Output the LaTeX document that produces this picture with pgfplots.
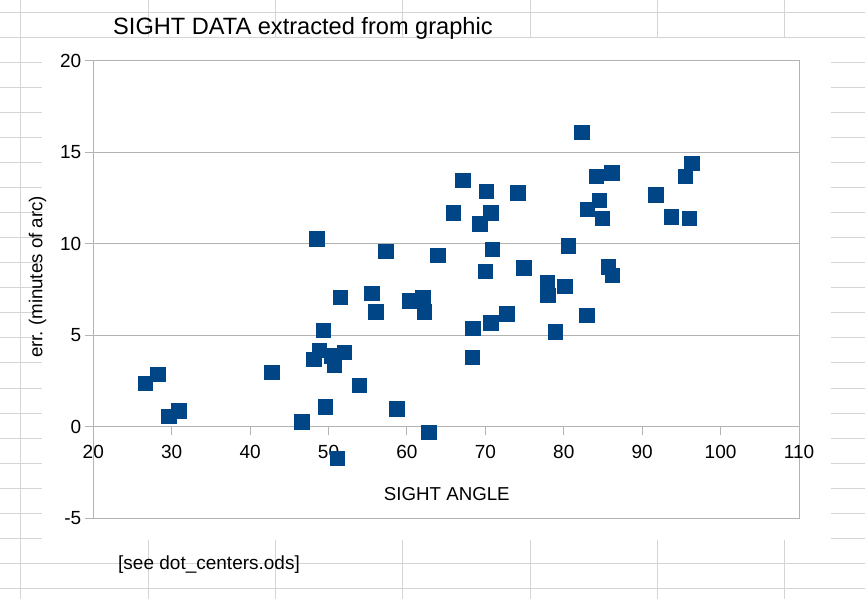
\documentclass[border=0pt]{standalone}
\usepackage{fontspec}
\setmainfont{Liberation Sans}
\usepackage{pgfplots}
\pgfplotsset{compat=1.18}
\frenchspacing
\definecolor{cellgrid}{HTML}{D4D4D4}
\definecolor{chartgray}{HTML}{B3B3B3}
\definecolor{dotblue}{HTML}{004586}
\begin{document}
\begin{tikzpicture}[x=1pt,y=1pt]
\useasboundingbox (0,0) rectangle (865,599);
\fill[white] (0,0) rectangle (865,599);
% spreadsheet cell grid
\foreach \k in {0,...,23}{
  \draw[cellgrid,line width=1pt] (0,{599-12.3-25.05*\k}) -- (865,{599-12.3-25.05*\k});
}
\foreach \k in {0,...,6}{
  \draw[cellgrid,line width=1pt] ({20.7+127.35*\k},0) -- ({20.7+127.35*\k},599);
}
% chart area
\fill[white] (42,59) rectangle (831,561);
% cell texts
\node[anchor=base west,inner sep=0pt,font=\fontsize{23.6}{26}\selectfont] at (113,564.7) {SIGHT DATA extracted from graphic};
\node[anchor=base west,inner sep=0pt,font=\fontsize{19}{22}\selectfont] at (118,29) {[see dot\_centers.ods]};
\begin{axis}[
  at={(93.3pt,80.5pt)}, anchor=south west,
  scale only axis, width=705.7pt, height=457.5pt,
  xmin=20, xmax=110, ymin=-5, ymax=20,
  xtick={20,30,...,110}, ytick={-5,0,...,20},
  axis x line*=middle, axis y line*=left,
  hide obscured x ticks=false,
  axis background/.style={draw=chartgray,line width=1pt},
  axis line style={chartgray,line width=1pt},
  ymajorgrids, grid style={chartgray,line width=1pt},
  tick align=outside, major tick length=8.5pt,
  tick style={chartgray,line width=1pt},
  /pgf/number format/assume math mode=true,
  tick label style={font=\fontsize{19}{22}\selectfont, text=black},
  xticklabel style={anchor=north, yshift=-6pt},
  yticklabel style={anchor=east},
  xlabel={SIGHT ANGLE}, ylabel={err. (minutes of arc)},
  xlabel style={at={(axis description cs:0.501,0.0536)}, anchor=center, font=\fontsize{18.7}{22}\selectfont},
  ylabel style={at={(axis description cs:-0.079,0.528)}, anchor=center, rotate=0, font=\fontsize{18.7}{22}\selectfont},
  clip=false,
]
\addplot[only marks, mark=square*, mark size=7.2pt, mark options={fill=dotblue, draw=dotblue, line width=0.4pt}] coordinates {
(26.6,2.4) (28.2,2.9) (29.6,0.6) (30.9,0.9) (42.75,3.0) (46.6,0.3) (48.1,3.7) (48.5,10.3)
(48.8,4.2) (49.3,5.3) (49.55,1.1) (50.4,3.9) (50.7,3.4) (51.1,-1.7) (51.5,7.1) (52.0,4.1)
(53.9,2.3) (55.5,7.3) (56.0,6.3) (57.3,9.6) (58.7,1.0) (60.3,6.9) (62.0,7.1) (62.2,6.3)
(62.75,-0.3) (63.9,9.4) (65.9,11.7) (67.1,13.5) (68.3,3.8) (68.4,5.4) (69.3,11.1) (69.96,8.5)
(70.1,12.9) (70.7,11.7) (70.7,5.7) (70.9,9.7) (72.7,6.2) (74.1,12.8) (74.9,8.7) (77.9,7.9)
(77.95,7.2) (78.9,5.2) (80.1,7.7) (80.6,9.9) (82.3,16.1) (82.9,6.1) (83.0,11.9) (84.1,13.7)
(84.55,12.4) (84.9,11.4) (85.7,8.75) (86.1,13.9) (86.2,8.3) (91.7,12.7) (93.7,11.5) (95.5,13.7)
(96.0,11.4) (96.3,14.4)
};
\end{axis}
\end{tikzpicture}
\end{document}
